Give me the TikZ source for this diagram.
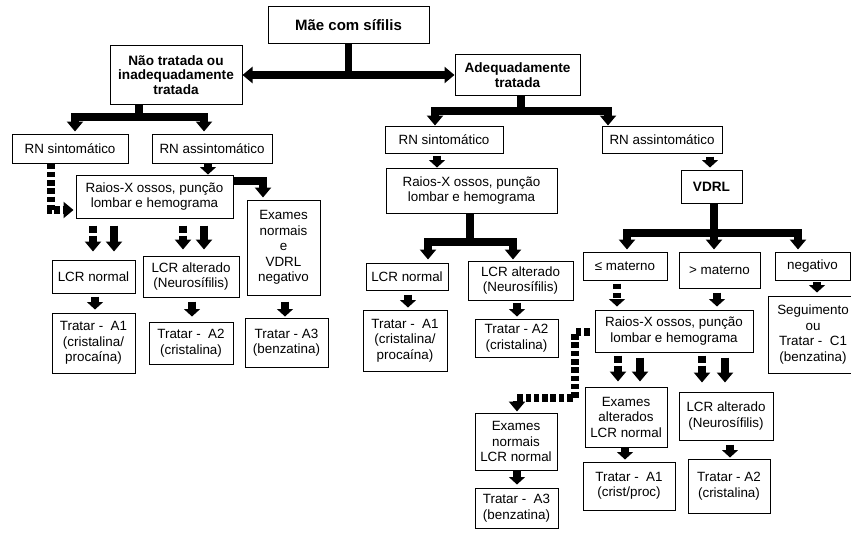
\documentclass[tikz,border=0pt]{standalone}
\usepackage{fontspec}
\setmainfont{Liberation Sans}
\usetikzlibrary{arrows.meta}
\newcommand\txtfont{\fontsize{13.4pt}{15.5pt}\selectfont}
\newcommand\boldtxt{\fontsize{13.6pt}{14.5pt}\selectfont\bfseries}
\newcommand\titletxt{\fontsize{15pt}{17pt}\selectfont\bfseries}
\tikzset{
  box/.style={draw=black, line width=1pt, inner sep=0pt, align=center, font=\txtfont, text=black, fill=white},
  bbox/.style={box, font=\boldtxt},
  bar/.style={line width=7.5pt, line join=miter},
  barrow/.style={line width=7.5pt, line join=miter, -{Triangle[width=16pt,length=10pt]}},
  sarrow/.style={line width=7.5pt, -{Triangle[width=16pt,length=7.5pt]}},
  dbarrow/.style={line width=8pt, {Triangle[width=16pt,length=10pt]}-{Triangle[width=16pt,length=10pt]}},
  dasharrowL/.style={barrow, dash pattern=on 5.5pt off 2.8pt},
  dasharrowS/.style={barrow, dash pattern=on 7pt off 3pt},
  dasharrowT/.style={sarrow, dash pattern=on 5pt off 4pt},
}
\begin{document}
\begin{tikzpicture}[x=1pt,y=-1pt]
\useasboundingbox (0,0) rectangle (851,535);
\clip (0,0) rectangle (851,535);
\fill[white] (0,0) rectangle (851,535);

% top
\node[box, font=\titletxt, minimum width=161pt, minimum height=37pt] (mae) at (348.5,25.5) {Mãe com sífilis};
\node[bbox, minimum width=132pt, minimum height=58pt] (nao) at (176,75) {Não tratada ou\\inadequadamente\\tratada};
\node[bbox, minimum width=125pt, minimum height=40pt] (adeq) at (517.5,75) {Adequadamente\\tratada};

% left branch
\node[box, minimum width=116pt, minimum height=29pt] (rns1) at (70,148.5) {RN sintomático};
\node[box, minimum width=120pt, minimum height=29pt] (rna1) at (212,148.5) {RN assintomático};
\node[box, minimum width=157pt, minimum height=43pt] (rx1) at (154.5,196.5) {Raios-X ossos, punção\\lombar e hemograma};
\node[box, minimum width=73pt, minimum height=95pt] (ex1) at (283.5,247.5) {Exames\\normais\\e\\VDRL\\negativo};
\node[box, minimum width=83pt, minimum height=33pt] (lcrn1) at (93.5,276.5) {LCR normal};
\node[box, minimum width=96pt, minimum height=41pt] (lcra1) at (191,276.5) {LCR alterado\\(Neurosífilis)};
\node[box, minimum width=83pt, minimum height=60pt] (ta1) at (93.5,343) {Tratar -\ \ A1\\(cristalina/\\procaína)};
\node[box, minimum width=84pt, minimum height=42pt] (ta2) at (191,343) {Tratar -\ \ A2\\(cristalina)};
\node[box, minimum width=83pt, minimum height=49pt] (ta3) at (286.5,342.5) {Tratar - A3\\(benzatina)};

% middle branch
\node[box, minimum width=118pt, minimum height=27pt] (rns2) at (444,139.5) {RN sintomático};
\node[box, minimum width=120pt, minimum height=27pt] (rna2) at (662,139.5) {RN assintomático};
\node[box, minimum width=171pt, minimum height=45pt] (rx2) at (471.5,190.5) {Raios-X ossos, punção\\lombar e hemograma};
\node[box, minimum width=82pt, minimum height=27pt] (lcrn2) at (407,276.5) {LCR normal};
\node[box, minimum width=105pt, minimum height=39pt] (lcra2) at (520.5,280.5) {LCR alterado\\(Neurosífilis)};
\node[box, minimum width=84pt, minimum height=61pt] (ta1m) at (405,340.5) {Tratar -\ \ A1\\(cristalina/\\procaína)};
\node[box, minimum width=83pt, minimum height=38pt] (ta2m) at (516.5,338) {Tratar - A2\\(cristalina)};

% right branch
\node[bbox, minimum width=61pt, minimum height=33pt] (vdrl) at (711.5,186.5) {VDRL};
\node[box, minimum width=84pt, minimum height=28pt] (le) at (625,266) {≤ materno};
\node[box, minimum width=81pt, minimum height=36pt] (gt) at (719.5,270) {> materno};
\node[box, minimum width=75pt, minimum height=28pt] (neg) at (812.5,266) {negativo};
\node[box, minimum width=158pt, minimum height=42pt] (rx3) at (674,331) {Raios-X ossos, punção\\lombar e hemograma};
\node[box, minimum width=90pt, minimum height=77pt] (seg) at (813,334.5) {Seguimento\\ou\\Tratar -\ \ C1\\(benzatina)};
\node[box, minimum width=82pt, minimum height=60pt] (exa) at (626,417) {Exames\\alterados\\LCR normal};
\node[box, minimum width=94pt, minimum height=48pt] (lcra3) at (726,416) {LCR alterado\\(Neurosífilis)};
\node[box, minimum width=92pt, minimum height=48pt] (ta1r) at (629,486) {Tratar -\ \ A1\\(crist/proc)};
\node[box, minimum width=82pt, minimum height=54pt] (ta2r) at (729,486) {Tratar - A2\\(cristalina)};
\node[box, minimum width=82pt, minimum height=57pt] (exn) at (516,441.5) {Exames\\normais\\LCR normal};
\node[box, minimum width=83pt, minimum height=40pt] (ta3r) at (516.5,508) {Tratar -\ \ A3\\(benzatina)};

% top connectors
\draw[bar] (mae.south) -- (mae.south |- nao.east);
\draw[dbarrow] (nao.east) -- (adeq.west);

% left connectors
\draw[barrow, shorten >=2pt] (nao.south -| 139,0) |- (75,117) -- (rns1.north -| 75,0);
\draw[barrow, shorten >=2pt] (nao.south -| 139,0) |- (204,117) -- (rna1.north -| 204,0);
\draw[sarrow] (rna1.south -| 208,0) -- (rx1.north -| 208,0);
\draw[dasharrowL, shorten >=2pt] (rns1.south -| 51,0) |- (rx1.west |- 0,210);
\draw[barrow, shorten >=2pt] (rx1.east |- 0,181) -| (ex1.north -| 263,0);
\draw[dasharrowS, shorten <=7pt, shorten >=8pt] (rx1.south -| 93,0) -- (lcrn1.north -| 93,0);
\draw[barrow, shorten <=7pt, shorten >=8pt] (rx1.south -| 114,0) -- (lcrn1.north -| 114,0);
\draw[dasharrowS, shorten <=7pt, shorten >=6pt] (rx1.south -| 183,0) -- (lcra1.north -| 183,0);
\draw[barrow, shorten <=7pt, shorten >=6pt] (rx1.south -| 204,0) -- (lcra1.north -| 204,0);
\draw[sarrow, shorten <=3pt, shorten >=3pt] (lcrn1.south -| 95,0) -- (ta1.north -| 95,0);
\draw[sarrow, shorten <=4pt, shorten >=5pt] (lcra1.south -| 192,0) -- (ta2.north -| 192,0);
\draw[sarrow, shorten <=6pt, shorten >=1pt] (ex1.south -| 285,0) -- (ta3.north -| 285,0);

% middle connectors
\draw[barrow] (adeq.south -| 521,0) |- (435,111) -- (rns2.north -| 435,0);
\draw[barrow] (adeq.south -| 521,0) |- (608,111) -- (rna2.north -| 608,0);
\draw[sarrow, shorten <=2pt] (rns2.south -| 437,0) -- (rx2.north -| 437,0);
\draw[barrow, shorten >=3pt] (rx2.south -| 470,0) |- (428,242) -- (lcrn2.north -| 428,0);
\draw[barrow, shorten >=1pt] (rx2.south -| 470,0) |- (513,242) -- (lcra2.north -| 513,0);
\draw[sarrow, shorten <=4pt, shorten >=2pt] (lcrn2.south -| 408,0) -- (ta1m.north -| 408,0);
\draw[sarrow, shorten <=2pt, shorten >=2pt] (lcra2.south -| 517,0) -- (ta2m.north -| 517,0);

% right connectors
\draw[sarrow, shorten <=3pt, shorten >=2pt] (rna2.south -| 710,0) -- (vdrl.north -| 710,0);
\draw[barrow, shorten >=2pt] (vdrl.south -| 714,0) |- (627,233) -- (le.north -| 627,0);
\draw[barrow, shorten >=2pt] (vdrl.south -| 714,0) -- (gt.north -| 714,0);
\draw[barrow, shorten >=2pt] (vdrl.south -| 714,0) |- (798,233) -- (neg.north -| 798,0);
\draw[dasharrowT, shorten <=3pt, shorten >=3pt] (le.south -| 617,0) -- (rx3.north -| 617,0);
\draw[sarrow, shorten <=4pt, shorten >=3pt] (gt.south -| 717,0) -- (rx3.north -| 717,0);
\draw[sarrow, shorten <=1pt, shorten >=3pt] (neg.south -| 817,0) -- (seg.north -| 817,0);
\draw[dasharrowL, shorten <=5pt, shorten >=1pt] (rx3.west |- 0,332) -| (575,398) -| (exn.north -| 517,0);
\draw[dasharrowS, shorten <=3pt, shorten >=5pt] (rx3.south -| 618,0) -- (exa.north -| 618,0);
\draw[barrow, shorten <=5pt, shorten >=5pt] (rx3.south -| 640,0) -- (exa.north -| 640,0);
\draw[dasharrowS, shorten <=3pt, shorten >=9pt] (rx3.south -| 702,0) -- (lcra3.north -| 702,0);
\draw[barrow, shorten <=5pt, shorten >=9pt] (rx3.south -| 725,0) -- (lcra3.north -| 725,0);
\draw[sarrow, shorten >=2pt] (exa.south -| 625,0) -- (ta1r.north -| 625,0);
\draw[sarrow, shorten <=4pt, shorten >=1pt] (lcra3.south -| 730,0) -- (ta2r.north -| 730,0);
\draw[sarrow, shorten >=3pt] (exn.south -| 517,0) -- (ta3r.north -| 517,0);
\end{tikzpicture}
\end{document}
